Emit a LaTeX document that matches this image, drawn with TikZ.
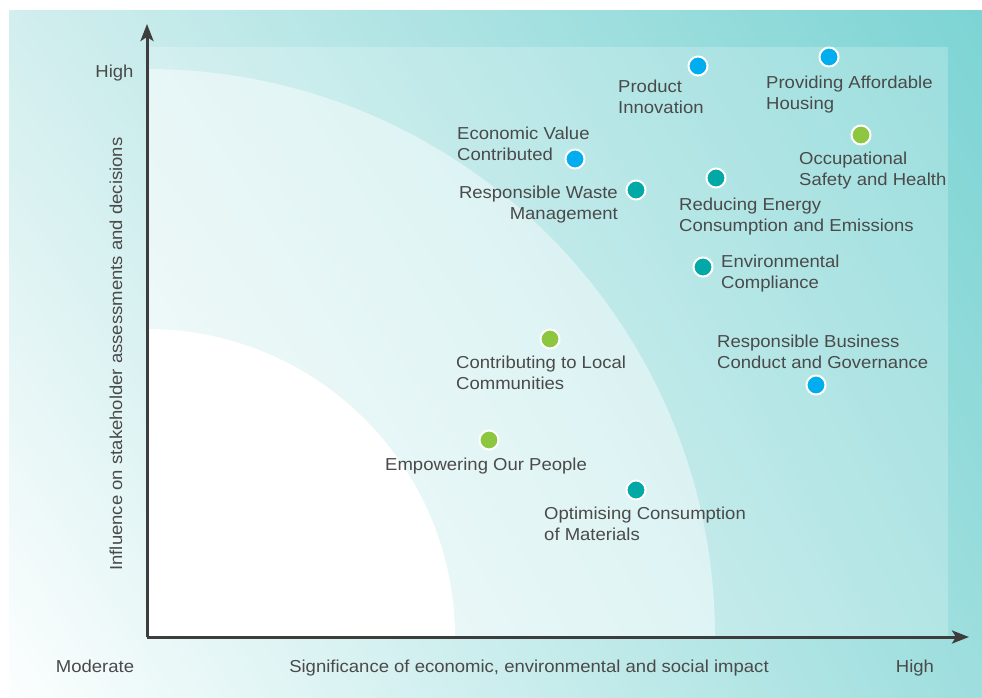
\documentclass[tikz,border=0pt]{standalone}
\usepackage{fontspec}
\setmainfont[FakeStretch=1.07]{Liberation Sans}
\usetikzlibrary{shadings,arrows.meta}
\definecolor{bgUR}{HTML}{7DD4D4}
\definecolor{bgUL}{HTML}{D2EEEE}
\definecolor{bgLR}{HTML}{9EDEDE}
\definecolor{bgLL}{HTML}{FCFEFE}
\definecolor{axisgray}{HTML}{3D3D3D}
\definecolor{txtgray}{HTML}{4A4A4A}
\definecolor{dotblue}{HTML}{00AEEF}
\definecolor{dotgreen}{HTML}{8DC63F}
\definecolor{dotteal}{HTML}{00A9A6}
\begin{document}
\begin{tikzpicture}[x=1pt,y=-1pt,
  axisline/.style={draw=axisgray, line width=3pt, -{Stealth[length=17pt,width=13pt,inset=4pt]}},
  dotb/.style={circle, fill=dotblue, draw=white, line width=2pt, minimum size=19pt, inner sep=0pt},
  dotg/.style={circle, fill=dotgreen, draw=white, line width=2pt, minimum size=19pt, inner sep=0pt},
  dott/.style={circle, fill=dotteal, draw=white, line width=2pt, minimum size=19pt, inner sep=0pt},
  lbl/.style={text=txtgray, font=\fontsize{17.3}{21}\selectfont, inner sep=0pt, align=left, anchor=north west},
  lblr/.style={lbl, align=right, anchor=north east},
  axlbl/.style={text=txtgray, font=\fontsize{17.3}{21}\selectfont, inner sep=0pt, anchor=base}
]
\useasboundingbox (0,0) rectangle (982,697);
% background
\shade[upper left=bgUL, upper right=bgUR, lower left=bgLL, lower right=bgLR] (9,10) rectangle (982,697);
\fill[white, opacity=0.22] (147,47) rectangle (948,637);
\begin{scope}
  \clip (147,47) rectangle (948,637);
  \fill[white, opacity=0.45] (147,637) circle[radius=568];
  \fill[white] (147,637) circle[radius=308];
\end{scope}
% axes
\coordinate (O) at (147,637);
\coordinate (ytip) at (147,24);
\coordinate (xtip) at (969,637);
\draw[axisline] (O) -- (ytip);
\draw[axisline] (O) -- (xtip);
% axis labels
\node[axlbl] (yhigh) at (114.5,77.3) {High};
\node[axlbl] (xmod) at (95,672.7) {Moderate};
\node[axlbl] (xtitle) at (529,672.7) {Significance of economic, environmental and social impact};
\node[axlbl] (xhigh) at (915,672.7) {High};
\node[text=txtgray, font=\fontsize{17.3}{21}\selectfont, inner sep=0pt, rotate=90, anchor=center] (ytitle) at (116,354) {Influence on stakeholder assessments and decisions};
% dots
\node[dotb] (d1) at (698,66) {};
\node[dotb] (d2) at (829,57) {};
\node[dotg] (d3) at (861,135) {};
\node[dotb] (d4) at (575,159) {};
\node[dott] (d5) at (636,190) {};
\node[dott] (d6) at (716,178) {};
\node[dott] (d7) at (703,267) {};
\node[dotb] (d8) at (816,385) {};
\node[dotg] (d9) at (550,339) {};
\node[dotg] (d10) at (489,440) {};
\node[dott] (d11) at (636,490) {};
% labels
\node[lbl] (l1) at (618,79.5) {Product\\Innovation};
\node[lbl] (l2) at (766,75.7) {Providing Affordable\\Housing};
\node[lbl] (l3) at (799,151.5) {Occupational\\Safety and Health};
\node[lbl] (l4) at (457,126.5) {Economic Value\\Contributed};
\node[lblr] (l5) at (618,185.5) {Responsible Waste\\Management};
\node[lbl] (l6) at (679,197.5) {Reducing Energy\\Consumption and Emissions};
\node[lbl] (l7) at (721,254.5) {Environmental\\Compliance};
\node[lbl] (l8) at (717,334.5) {Responsible Business\\Conduct and Governance};
\node[lbl] (l9) at (456,355.5) {Contributing to Local\\Communities};
\node[lbl] (l10) at (385,457.5) {Empowering Our People};
\node[lbl] (l11) at (544,506.5) {Optimising Consumption\\of Materials};
\end{tikzpicture}
\end{document}
